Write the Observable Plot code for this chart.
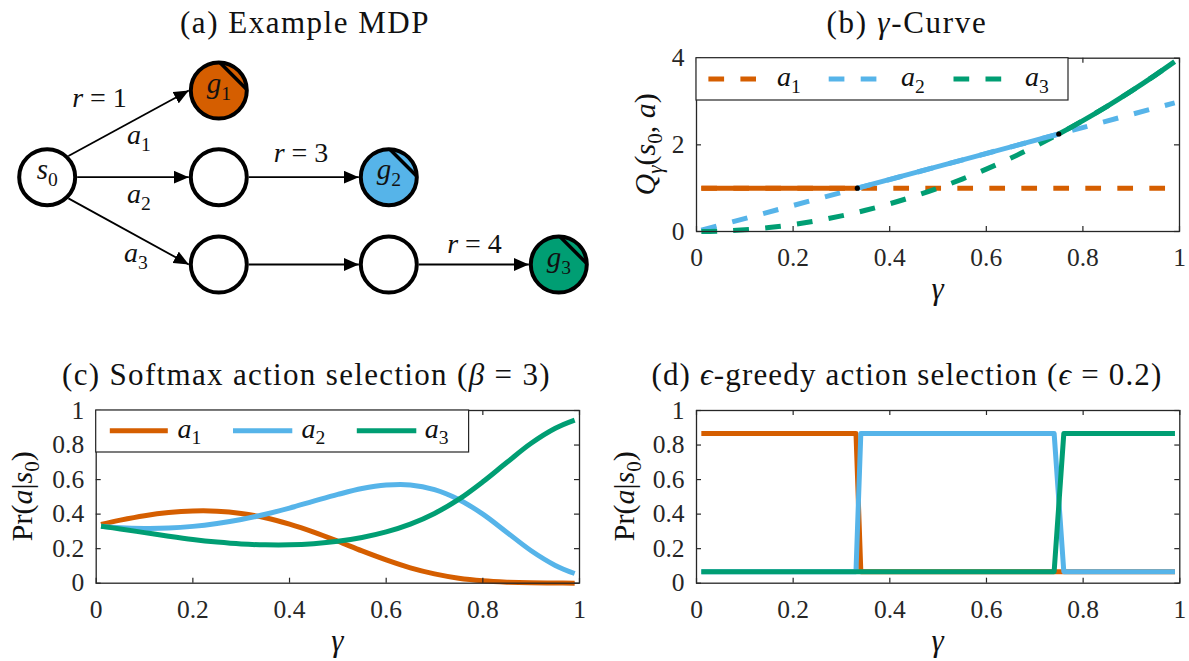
<!DOCTYPE html>
<html><head><meta charset="utf-8">
<script src="https://cdn.jsdelivr.net/npm/d3@7"></script>
<script src="https://cdn.jsdelivr.net/npm/@observablehq/plot@0.6"></script>
<style>
html,body{margin:0;padding:0;background:#fff;}
#fig{position:relative;width:1189px;height:661px;overflow:hidden;background:#fff;font-family:"Liberation Serif","DejaVu Serif",serif;}
#fig svg{position:absolute;}
</style></head><body><div id="fig"></div>
<script>
// ================= DATA =================
const actionNames = ["a_1", "a_2", "a_3"];
const actionColors = ["#D55E00", "#56B4E9", "#009E73"];
const xTicks = [0, 0.2, 0.4, 0.6, 0.8, 1];
const qTicks = [0, 2, 4];
const pTicks = [0, 0.2, 0.4, 0.6, 0.8, 1];

// (b) gamma-curve
const qEndsGamma = [0.01, 0.99];
const qA1 = [1, 1];
const qA2 = [0.03, 2.97];
const gammaGrid = [0.01,0.05,0.10,0.15,0.20,0.25,0.30,0.35,0.40,0.45,0.50,0.55,0.60,0.65,0.70,0.75,0.80,0.85,0.90,0.95,0.99];
const qA3 = [0.0004,0.01,0.04,0.09,0.16,0.25,0.36,0.49,0.64,0.81,1.00,1.21,1.44,1.69,1.96,2.25,2.56,2.89,3.24,3.61,3.92];
const bestA1Gamma = [0.01, 0.333], bestA1Q = [1, 1];
const bestA2Gamma = [0.333, 0.75], bestA2Q = [1, 2.25];
const bestA3Gamma = [0.75, 0.80, 0.85, 0.90, 0.95, 0.99], bestA3Q = [2.25, 2.56, 2.89, 3.24, 3.61, 3.92];
const switchGamma = [0.333, 0.75], switchQ = [1, 2.25];

// (c) softmax
const softA1 = [0.340,0.365,0.391,0.409,0.418,0.417,0.404,0.379,0.342,0.296,0.243,0.187,0.135,0.089,0.054,0.029,0.014,0.006,0.002,0.001,0.000];
const softA2 = [0.330,0.321,0.317,0.319,0.329,0.346,0.369,0.399,0.435,0.475,0.514,0.548,0.568,0.569,0.542,0.485,0.400,0.294,0.188,0.103,0.056];
const softA3 = [0.330,0.314,0.293,0.272,0.253,0.238,0.227,0.222,0.222,0.229,0.243,0.265,0.297,0.342,0.404,0.485,0.587,0.700,0.810,0.897,0.944];

// (d) epsilon-greedy
const epsA1Gamma = [0.01, 0.33, 0.34, 0.99], epsA1P = [0.867, 0.867, 0.067, 0.067];
const epsA2Gamma = [0.01, 0.33, 0.34, 0.74, 0.76, 0.99], epsA2P = [0.067, 0.067, 0.867, 0.867, 0.067, 0.067];
const epsA3Gamma = [0.01, 0.74, 0.76, 0.99], epsA3P = [0.067, 0.067, 0.867, 0.867];

// (a) MDP diagram
const nodeX = [46.7, 218.3, 218.3, 218.3, 388.3, 388.3, 558.3];
const nodeY = [176.7, 90, 176.7, 264, 176.7, 264, 264];
const nodeText = ["s_0", "g_1", "", "", "g_2", "", "g_3"];
const nodeColor = ["white", actionColors[0], "white", "white", actionColors[1], "white", actionColors[2]];
const goalNodes = [1, 4, 6];
const edgeFrom = [0, 0, 2, 0, 3, 5];
const edgeTo = [1, 2, 4, 3, 5, 6];
const edgeFromAnchor = ["ne", "e", "e", "se", "e", "e"];
const edgeLabelText = ["r = 1", "a_1", "a_2", "r = 3", "a_3", "r = 4"];
const edgeLabelX = [99, 138.5, 138.5, 300.5, 135.5, 474];
const edgeLabelY = [97.5, 135, 193.7, 153, 253, 244];

// ================= HELPERS =================
const FONT = '"Liberation Serif", "DejaVu Serif", serif';
const INK = "#262626";
const fits = [];
const rows = (gs, vs) => gs.map((g, i) => ({g, v: vs[i]}));

function mathText(textSel, str, size) {
  let upright = false, sub = false;
  const parts = [];
  for (const ch of str) {
    if (ch === "`") { upright = !upright; continue; }
    if (ch === "_") { sub = true; continue; }
    const italic = !upright && /[A-Za-z\u03B1-\u03C9\u03F5]/.test(ch);
    parts.push({t: ch, italic, sub});
    sub = false;
  }
  const merged = [];
  for (const p of parts) {
    const last = merged[merged.length - 1];
    if (last && last.italic === p.italic && last.sub === p.sub) last.t += p.t;
    else merged.push({...p});
  }
  let shifted = 0;
  for (const p of merged) {
    const ts = textSel.append("tspan").text(p.t);
    if (p.italic) ts.attr("font-style", "italic");
    const target = p.sub ? 0.24 * size : 0;
    if (target !== shifted) { ts.attr("dy", target - shifted); shifted = target; }
    if (p.sub) ts.attr("font-size", 0.7 * size);
  }
}

function addText(sel, str, {x, y, size, anchor = "middle", rotate = false, fit = null}) {
  const t = sel.append("text").attr("font-family", FONT).attr("font-size", size)
    .attr("fill", "#111").attr("text-anchor", anchor);
  if (rotate) t.attr("transform", `translate(${x},${y}) rotate(-90)`);
  else t.attr("x", x).attr("y", y);
  mathText(t, str, size);
  if (fit) fits.push([t.node(), fit]);
  return t;
}

function addLegend(sel, box, items) {
  const g = sel.append("g");
  g.append("rect").attr("x", box.x0).attr("y", box.y0).attr("width", box.x1 - box.x0)
    .attr("height", box.y1 - box.y0).attr("fill", "white").attr("stroke", INK).attr("stroke-width", 1.2);
  items.forEach(it => {
    g.append("line").attr("x1", it.s0).attr("x2", it.s1).attr("y1", box.ys).attr("y2", box.ys)
      .attr("stroke", it.color).attr("stroke-width", 5).attr("stroke-dasharray", it.dash || null);
    addText(g, it.label, {x: it.lx, y: box.yb, size: 28, anchor: "start"});
  });
}

function chart({width, height, ml, mr, mt, mb, yDomain, yTicks, marks}) {
  const innerW = width - ml - mr, innerH = height - mt - mb;
  return Plot.plot({
    width, height, marginLeft: ml, marginRight: mr, marginTop: mt, marginBottom: mb,
    x: {domain: [0, 1], axis: null}, y: {domain: yDomain, axis: null},
    style: {fontFamily: FONT, fontSize: "25.5px", color: INK, background: "white"},
    marks: [
      ...marks,
      Plot.ruleX(xTicks, {x: d => d, insetTop: innerH - 5, stroke: INK, strokeWidth: 1.2}),
      Plot.ruleX(xTicks, {x: d => d, insetBottom: innerH - 5, stroke: INK, strokeWidth: 1.2}),
      Plot.ruleY(yTicks, {y: d => d, insetRight: innerW - 5, stroke: INK, strokeWidth: 1.2}),
      Plot.ruleY(yTicks, {y: d => d, insetLeft: innerW - 5, stroke: INK, strokeWidth: 1.2}),
      Plot.frame({stroke: INK, strokeWidth: 1.3}),
      Plot.text(xTicks, {x: d => d, frameAnchor: "bottom", lineAnchor: "top", dy: 16.5, text: d => String(d), fontSize: 25.5, fontFamily: FONT, fill: INK}),
      Plot.text(yTicks, {y: d => d, frameAnchor: "left", textAnchor: "end", dx: -12, text: d => String(d), fontSize: 25.5, fontFamily: FONT, fill: INK})
    ]
  });
}

function place(svg, left, top) {
  svg.style.position = "absolute";
  svg.style.left = left + "px";
  svg.style.top = top + "px";
  svg.style.maxWidth = "none";
  document.getElementById("fig").appendChild(svg);
  return d3.select(svg);
}

const DASH = "15.7,16.3";

// ================= (a) DIAGRAM =================
const nodes = nodeX.map((x, i) => ({x, y: nodeY[i], label: nodeText[i], fill: nodeColor[i]}));
const R = 30;
const anchorVec = {e: [1, 0], ne: [Math.SQRT1_2, -Math.SQRT1_2], se: [Math.SQRT1_2, Math.SQRT1_2]};
const edges = edgeFrom.map((f, i) => {
  const a = anchorVec[edgeFromAnchor[i]], t = edgeTo[i];
  return {x1: nodeX[f] + R * a[0], y1: nodeY[f] + R * a[1], x2: nodeX[t] - R, y2: nodeY[t]};
});
const edgeLabels = edgeLabelText.map((t, i) => ({t, x: edgeLabelX[i], y: edgeLabelY[i]}));
const goals = goalNodes.map(i => nodes[i]);

function arrowHead(color, context) {
  const m = d3.create("svg:marker")
    .attr("viewBox", "-15 -6.5 15 13").attr("markerWidth", 15).attr("markerHeight", 13)
    .attr("markerUnits", "userSpaceOnUse").attr("refX", 0).attr("refY", 0).attr("orient", "auto");
  m.append("path").attr("d", "M-15,-6.5L0,0L-15,6.5Z").attr("fill", color).attr("stroke", "none");
  return m.node();
}

const svgA = Plot.plot({
  width: 595, height: 330, margin: 0,
  x: {domain: [0, 595], axis: null}, y: {domain: [330, 0], axis: null},
  style: {fontFamily: FONT, background: "transparent"},
  marks: [
    Plot.link(edges, {x1: "x1", y1: "y1", x2: "x2", y2: "y2", stroke: "black", strokeWidth: 1.8, markerEnd: arrowHead}),
    Plot.dot(nodes, {x: "x", y: "y", r: 28, fill: "fill", stroke: "black", strokeWidth: 4}),
    Plot.link(goals, {x1: d => d.x + 1, y1: d => d.y - 28, x2: d => d.x + 28, y2: d => d.y - 1, stroke: "black", strokeWidth: 3.5}),
    Plot.text(nodes.filter(d => d.label), {x: "x", y: "y", text: "label", dy: -7, fontSize: 29, fontFamily: FONT, fill: "#111"}),
    Plot.text(edgeLabels, {x: "x", y: "y", text: "t", fontSize: 28, fontFamily: FONT, fill: "#111"})
  ]
});
const selA = place(svgA, 0, 0);
selA.selectAll("text").each(function () {
  const s = this.textContent;
  const size = parseFloat(this.getAttribute("font-size")) || 28;
  d3.select(this).text(""); mathText(d3.select(this), s, size);
});
addText(selA, "`(a) Example MDP`", {x: 305, y: 33, size: 31, fit: 250});

// ================= (b) GAMMA CURVE =================
const svgB = chart({
  width: 594, height: 330, ml: 101, mr: 10, mt: 57.7, mb: 99, yDomain: [0, 4], yTicks: qTicks,
  marks: [
    Plot.line(rows(qEndsGamma, qA1), {x: "g", y: "v", stroke: actionColors[0], strokeWidth: 5, strokeDasharray: DASH, strokeLinecap: "butt"}),
    Plot.line(rows(qEndsGamma, qA2), {x: "g", y: "v", stroke: actionColors[1], strokeWidth: 5, strokeDasharray: DASH, strokeLinecap: "butt"}),
    Plot.line(rows(gammaGrid, qA3), {x: "g", y: "v", stroke: actionColors[2], strokeWidth: 5, strokeDasharray: DASH, strokeLinecap: "butt", curve: "catmull-rom"}),
    Plot.line(rows(bestA1Gamma, bestA1Q), {x: "g", y: "v", stroke: actionColors[0], strokeWidth: 5, strokeLinecap: "butt"}),
    Plot.line(rows(bestA2Gamma, bestA2Q), {x: "g", y: "v", stroke: actionColors[1], strokeWidth: 5, strokeLinecap: "butt"}),
    Plot.line(rows(bestA3Gamma, bestA3Q), {x: "g", y: "v", stroke: actionColors[2], strokeWidth: 5, strokeLinecap: "butt", curve: "catmull-rom"}),
    Plot.dot(rows(switchGamma, switchQ), {x: "g", y: "v", r: 2.6, fill: "black"})
  ]
});
const selB = place(svgB, 595, 0);
addLegend(selB, {x0: 101, x1: 473, y0: 57.7, y1: 100, ys: 79, yb: 86}, [
  {s0: 113.4, s1: 161, lx: 182, color: actionColors[0], dash: DASH, label: actionNames[0]},
  {s0: 233.7, s1: 285, lx: 306, color: actionColors[1], dash: DASH, label: actionNames[1]},
  {s0: 358.5, s1: 409, lx: 430, color: actionColors[2], dash: DASH, label: actionNames[2]}
]);
addText(selB, "`(b) `γ`-Curve`", {x: 312, y: 33, size: 31, fit: 161});
addText(selB, "γ", {x: 342.5, y: 299, size: 31});
addText(selB, "Q_γ(s_0, a)", {x: 59.5, y: 144.4, size: 30, rotate: true});

// ================= (c) SOFTMAX =================
const svgC = chart({
  width: 595, height: 331, ml: 95.7, mr: 16, mt: 80, mb: 78.3, yDomain: [0, 1], yTicks: pTicks,
  marks: [
    Plot.line(rows(gammaGrid, softA1), {x: "g", y: "v", stroke: actionColors[0], strokeWidth: 5, curve: "catmull-rom", strokeLinecap: "butt"}),
    Plot.line(rows(gammaGrid, softA2), {x: "g", y: "v", stroke: actionColors[1], strokeWidth: 5, curve: "catmull-rom", strokeLinecap: "butt"}),
    Plot.line(rows(gammaGrid, softA3), {x: "g", y: "v", stroke: actionColors[2], strokeWidth: 5, curve: "catmull-rom", strokeLinecap: "butt"})
  ]
});
const selC = place(svgC, 0, 330);
addLegend(selC, {x0: 95.7, x1: 468.6, y0: 80, y1: 122, ys: 100.7, yb: 107.5}, [
  {s0: 109.8, s1: 167.8, lx: 177.4, color: actionColors[0], label: actionNames[0]},
  {s0: 233, s1: 292.3, lx: 301.4, color: actionColors[1], label: actionNames[1]},
  {s0: 356.8, s1: 416.3, lx: 424.7, color: actionColors[2], label: actionNames[2]}
]);
addText(selC, "`(c) Softmax action selection (`β` = 3)`", {x: 306.5, y: 54.5, size: 31, fit: 489});
addText(selC, "γ", {x: 337.4, y: 321, size: 31});
addText(selC, "`Pr`(a|s_0)", {x: 31.5, y: 166.3, size: 30, rotate: true});

// ================= (d) EPSILON-GREEDY =================
const svgD = chart({
  width: 594, height: 331, ml: 101, mr: 9.7, mt: 80, mb: 78.3, yDomain: [0, 1], yTicks: pTicks,
  marks: [
    Plot.line(rows(epsA1Gamma, epsA1P), {x: "g", y: "v", stroke: actionColors[0], strokeWidth: 5, strokeLinecap: "butt"}),
    Plot.line(rows(epsA2Gamma, epsA2P), {x: "g", y: "v", stroke: actionColors[1], strokeWidth: 5, strokeLinecap: "butt"}),
    Plot.line(rows(epsA3Gamma, epsA3P), {x: "g", y: "v", stroke: actionColors[2], strokeWidth: 5, strokeLinecap: "butt"})
  ]
});
const selD = place(svgD, 595, 330);
addText(selD, "`(d) `ϵ`-greedy action selection (`ϵ` = 0.2)`", {x: 312, y: 54.5, size: 31, fit: 511});
addText(selD, "γ", {x: 342.7, y: 321, size: 31});
addText(selD, "`Pr`(a|s_0)", {x: 38.5, y: 166.3, size: 30, rotate: true});

// ---- fit title widths to the reference ----
for (const [node, target] of fits) {
  const natural = node.getComputedTextLength();
  const n = node.textContent.length;
  node.setAttribute("letter-spacing", ((target - natural) / n).toFixed(2));
}
</script></body></html>
